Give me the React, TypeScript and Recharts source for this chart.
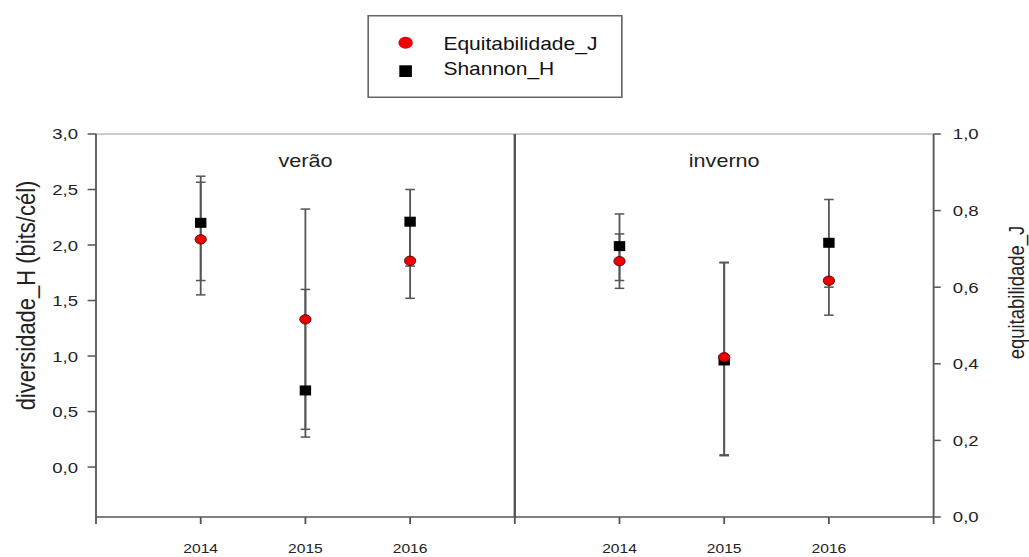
import { ComposedChart, Scatter, ErrorBar, XAxis, YAxis, ReferenceLine, ReferenceArea, Label } from 'recharts'

const SEASONS = ['verão', 'inverno']
const YEARS = ['2014', '2015', '2016']

// Shannon H (bits/cél): verão 2014-2016, then inverno 2014-2016
const SHANNON_H = [2.2, 0.69, 2.21, 1.99, 0.96, 2.02]
const SHANNON_LOW = [1.68, 0.27, 1.81, 1.68, 0.11, 1.62]
const SHANNON_HIGH = [2.62, 1.6, 2.5, 2.28, 1.84, 2.41]

// Equitabilidade J, same order
const EQUIT_J = [0.725, 0.516, 0.669, 0.668, 0.417, 0.617]
const EQUIT_LOW = [0.58, 0.229, 0.571, 0.597, 0.16, 0.527]
const EQUIT_HIGH = [0.874, 0.804, 0.768, 0.739, 0.665, 0.708]

const H_TICKS = [0, 0.5, 1, 1.5, 2, 2.5, 3]
const J_TICKS = [0, 0.2, 0.4, 0.6, 0.8, 1]

// x slots: 0 = left edge, 1-3 verão years, 4 = divider, 5-7 inverno years, 8 = right edge
const SLOTS = [0, 1, 2, 3, 4, 5, 6, 7, 8]

// the whole figure is drawn narrow and stretched sideways
const STRETCH = 1.2
const W = 858
const H = 557
const FONT = '"Liberation Sans", Arial, sans-serif'

const rows = SEASONS.flatMap((_, s) =>
  YEARS.map((year, y) => {
    const i = s * 3 + y
    return {
      slot: s * 4 + y + 1,
      year,
      h: SHANNON_H[i],
      hErr: [SHANNON_H[i] - SHANNON_LOW[i], SHANNON_HIGH[i] - SHANNON_H[i]],
      j: EQUIT_J[i],
      jErr: [EQUIT_J[i] - EQUIT_LOW[i], EQUIT_HIGH[i] - EQUIT_J[i]],
    }
  })
)

const comma = (v: number) => v.toFixed(1).replace('.', ',')
const slotLabel = (v: number) => (v % 4 === 0 ? '' : YEARS[(v % 4) - 1])

const Square = (props: any) => (
  <rect x={props.cx - 4.75} y={props.cy - 5} width={9.5} height={10} fill="#000" />
)

const Dot = (props: any) => (
  <circle cx={props.cx} cy={props.cy} r={4.7} fill="#ee0000" stroke="#550000" strokeWidth={0.8} />
)

function KeyBox() {
  return (
    <svg width={213} height={83} style={{ position: 'absolute', left: 305.5, top: 14.5 }}>
      <rect x={0.75} y={0.75} width={211.5} height={81.5} fill="#fff" stroke="#666" strokeWidth={1.5} />
      <circle cx={32} cy={27.7} r={6} fill="#ee0000" />
      <rect x={26.75} y={50.3} width={10.5} height={11.7} fill="#000" />
      <text x={63.5} y={34.8} fontSize={17.5} fill="#111">Equitabilidade_J</text>
      <text x={63.5} y={60.5} fontSize={17.5} fill="#111">Shannon_H</text>
    </svg>
  )
}

export default function App() {
  return (
    <div
      style={{
        position: 'absolute',
        left: 0,
        top: 0,
        width: W,
        height: H,
        background: '#fff',
        fontFamily: FONT,
        transform: `scaleX(${STRETCH})`,
        transformOrigin: '0 0',
      }}
    >
      <ComposedChart width={W} height={H} data={rows} margin={{ top: 134, right: 0, bottom: 0, left: 0 }}>
        <XAxis
          type="number"
          dataKey="slot"
          domain={[0, 8]}
          ticks={SLOTS}
          interval={0}
          tickFormatter={slotLabel}
          height={40}
          tickSize={7}
          tickMargin={19.5}
          tick={{ fontSize: 13, fill: '#222' }}
          axisLine={{ stroke: '#555', strokeWidth: 1.5 }}
          tickLine={{ stroke: '#555', strokeWidth: 1.5 }}
        />
        <YAxis
          yAxisId="h"
          dataKey="h"
          domain={[-0.45, 3]}
          allowDataOverflow
          ticks={H_TICKS}
          interval={0}
          tickFormatter={comma}
          width={80}
          tickSize={7}
          tickMargin={8}
          tick={{ fontSize: 15.5, fill: '#222' }}
          axisLine={{ stroke: '#555', strokeWidth: 1.5 }}
          tickLine={{ stroke: '#555', strokeWidth: 1.5 }}
        >
          <Label value="diversidade_H (bits/cél)" angle={-90} position="center" dx={-18.3} dy={-30} fontSize={22} fill="#222" />
        </YAxis>
        <YAxis
          yAxisId="j"
          orientation="right"
          dataKey="j"
          domain={[0, 1]}
          allowDataOverflow
          ticks={J_TICKS}
          interval={0}
          tickFormatter={comma}
          width={80}
          tickSize={6}
          tickMargin={10}
          tick={{ fontSize: 15.5, fill: '#222' }}
          axisLine={{ stroke: '#555', strokeWidth: 1.5 }}
          tickLine={{ stroke: '#555', strokeWidth: 1.5 }}
        >
          <Label value="equitabilidade_J" angle={-90} position="center" dx={29} dy={-33} fontSize={18.5} fill="#222" />
        </YAxis>

        <ReferenceLine yAxisId="h" y={3} stroke="#bbb" strokeWidth={1.5} />
        <ReferenceArea yAxisId="h" x1={0} x2={4} fill="none" stroke="none">
          <Label value={SEASONS[0]} position="insideTop" offset={20} fontSize={18} fill="#222" />
        </ReferenceArea>
        <ReferenceArea yAxisId="h" x1={4} x2={8} fill="none" stroke="none">
          <Label value={SEASONS[1]} position="insideTop" offset={20} fontSize={18} fill="#222" />
        </ReferenceArea>
        <ReferenceLine yAxisId="h" x={4} stroke="#555" strokeWidth={2} />

        <Scatter yAxisId="h" name="Shannon_H" dataKey="h" shape={Square} isAnimationActive={false}>
          <ErrorBar dataKey="hErr" direction="y" width={4} stroke="#555" strokeWidth={1.5} />
        </Scatter>
        <Scatter yAxisId="j" name="Equitabilidade_J" dataKey="j" shape={Dot} isAnimationActive={false}>
          <ErrorBar dataKey="jErr" direction="y" width={4} stroke="#555" strokeWidth={1.5} />
        </Scatter>
      </ComposedChart>
      <KeyBox />
    </div>
  )
}
